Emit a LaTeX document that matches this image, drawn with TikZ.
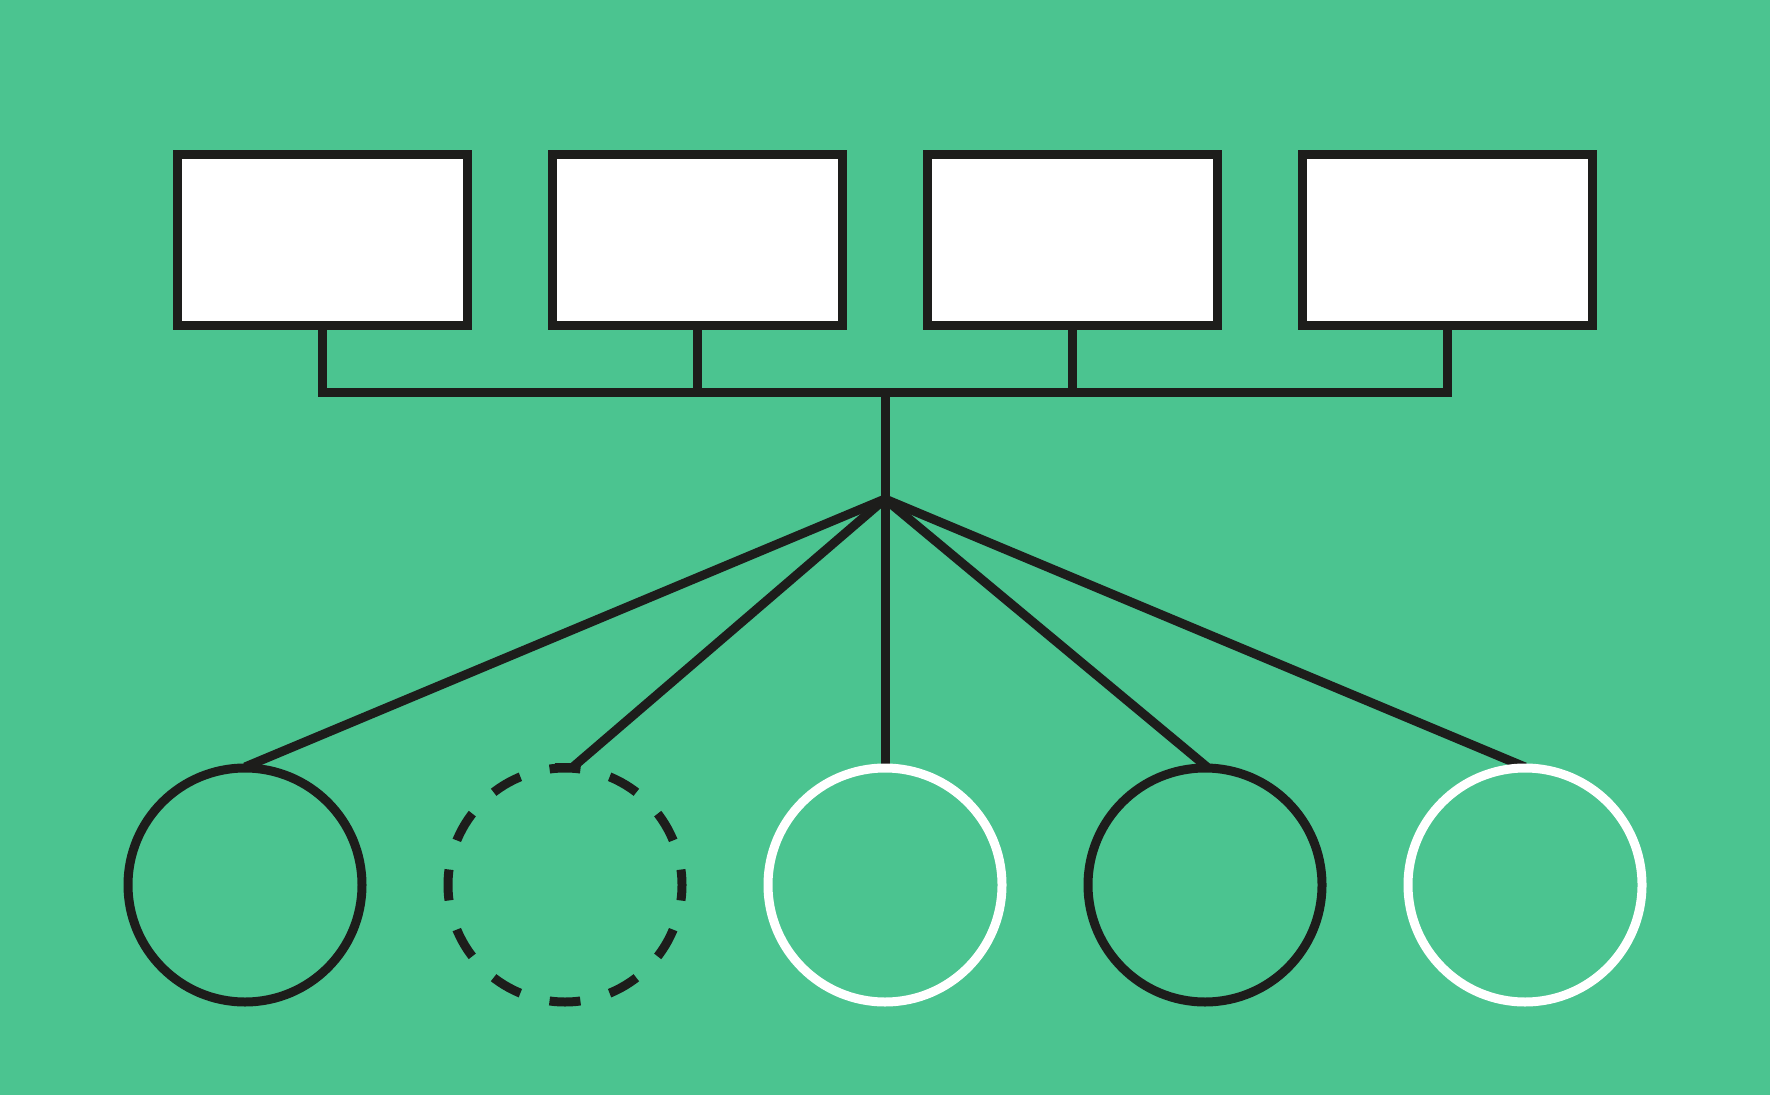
\documentclass[tikz,border=0pt]{standalone}
\definecolor{bggreen}{HTML}{4BC490}
\definecolor{ink}{HTML}{1D1D1B}
\begin{document}
\begin{tikzpicture}[x=0.5pt,y=-0.5pt,
  box/.style={draw=ink,fill=white,line width=4.4pt,rectangle,minimum width=145.3pt,minimum height=85.65pt,inner sep=0pt,outer sep=0pt},
  ring/.style={circle,line width=4.5pt,minimum size=117pt,inner sep=0pt,outer sep=0pt},
  darkring/.style={ring,draw=ink},
  whitering/.style={ring,draw=white},
  dashring/.style={ring,draw=ink,dash pattern=on 15.5pt off 15.13pt,dash phase=7.75pt},
  wire/.style={draw=ink,line width=4.5pt,line join=miter}]
\fill[bggreen] (0,0) rectangle (1770,1095);
\useasboundingbox (0,0) rectangle (1770,1095);
% boxes
\node[box] (b1) at (322.5,240) {};
\node[box] (b2) at (697.5,240) {};
\node[box] (b3) at (1072.5,240) {};
\node[box] (b4) at (1447.5,240) {};
% bus
\coordinate (bus) at (885,392.5);
\coordinate (hub) at (885,499);
\coordinate (bl) at (322.5,392.5);
\coordinate (br) at (1447.5,392.5);
\draw[wire] (b1.south) -- (bl) -- (br) -- (b4.south);
\draw[wire] (b2.south) -- (b2.south |- bus);
\draw[wire] (b3.south) -- (b3.south |- bus);
\draw[wire] (bus) -- (hub);
% circles positions
\coordinate (p1) at (245,885);
\coordinate (p2) at (565,885);
\coordinate (p3) at (885,885);
\coordinate (p4) at (1205,885);
\coordinate (p5) at (1525,885);
\coordinate (t1) at (245,767);
\coordinate (t2) at (573,767);
\coordinate (t3) at (885,767);
\coordinate (t4) at (1207,767);
\coordinate (t5) at (1525,767);
\draw[wire,line join=miter,miter limit=20] (t1) -- (hub) -- (t5);
\draw[wire] (hub) -- (t2);
\draw[wire] (hub) -- (t3);
\draw[wire] (hub) -- (t4);
\draw[draw=ink,line width=4.5pt] (555,767) -- (t2);
\node[darkring] (c1) at (p1) {};
\node[dashring] (c2) at (p2) {};
\node[whitering] (c3) at (p3) {};
\node[darkring] (c4) at (p4) {};
\node[whitering] (c5) at (p5) {};
\end{tikzpicture}
\end{document}
